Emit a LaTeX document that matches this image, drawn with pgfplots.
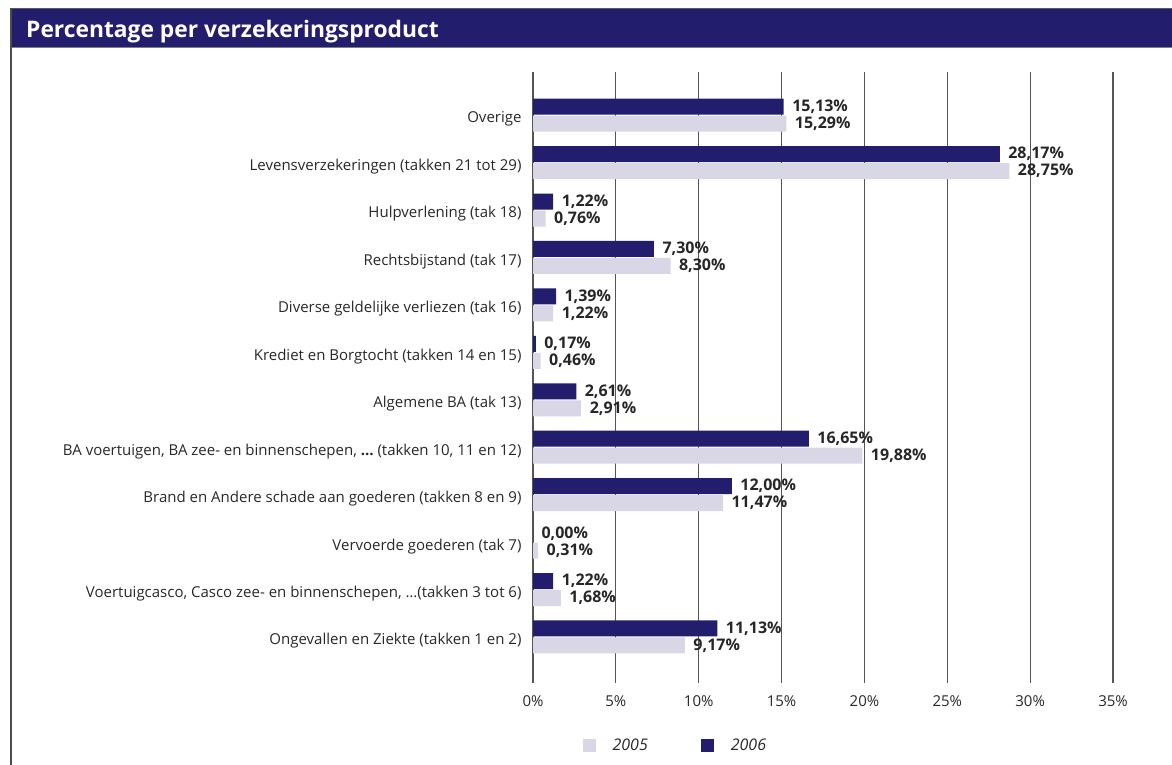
\documentclass[border=0pt]{standalone}
\usepackage{fontspec}
\setmainfont{Open Sans}
\usepackage{pgfplots}
\usepackage{pgfplotstable}
\pgfplotsset{compat=1.18}
\definecolor{navy}{RGB}{35,29,110}
\definecolor{lav}{RGB}{217,214,230}
\definecolor{gridc}{RGB}{85,85,85}
\definecolor{txt}{RGB}{40,40,40}

\pgfplotstableread{
y v2005 v2006
0 9.17 11.13
1 1.68 1.22
2 0.31 0.00
3 11.47 12.00
4 19.88 16.65
5 2.91 2.61
6 0.46 0.17
7 1.22 1.39
8 8.30 7.30
9 0.76 1.22
10 28.75 28.17
11 15.29 15.13
}\data

\begin{document}
\begin{tikzpicture}[x=1pt,y=1pt]
\path[use as bounding box] (0,0) rectangle (1172,765);
\fill[navy] (10,718) rectangle (1172,757);
\draw[gray!70!black, line width=0.8pt] (10,757) -- (1172,757);
\draw[gray, line width=0.8pt] (10,718) -- (1172,718);
\draw[gray!60!black, line width=2pt] (11,0) -- (11,757);
\node[anchor=base west, inner sep=0pt, text=white, font=\bfseries\fontsize{22.8}{27}\selectfont] at (26,727) {Percentage per verzekeringsproduct};

\begin{axis}[
  at={(533pt,82pt)}, anchor=south west,
  scale only axis, width=580pt, height=611pt,
  xmin=0, xmax=35, ymin=-0.97, ymax=11.91,
  xtick={0,5,...,35},
  xticklabels={0\%,5\%,10\%,15\%,20\%,25\%,30\%,35\%},
  ytick={0,...,11},
  yticklabels={
    Ongevallen en Ziekte (takken 1 en 2),
    {Voertuigcasco, Casco zee- en binnenschepen, …(takken 3 tot 6)},
    Vervoerde goederen (tak 7),
    Brand en Andere schade aan goederen (takken 8 en 9),
    {BA voertuigen, BA zee- en binnenschepen, \textbf{…} (takken 10, 11 en 12)},
    Algemene BA (tak 13),
    Krediet en Borgtocht (takken 14 en 15),
    Diverse geldelijke verliezen (tak 16),
    Rechtsbijstand (tak 17),
    Hulpverlening (tak 18),
    Levensverzekeringen (takken 21 tot 29),
    Overige},
  axis line style={draw=none},
  major tick length=0pt,
  xmajorgrids, grid style={gridc, line width=1.2pt},
  xticklabel style={font=\fontsize{15}{18}\selectfont, text=txt, yshift=-9pt},
  yticklabel style={font=\fontsize{15}{18}\selectfont, text=txt, xshift=-8pt, yshift=-4pt},
  xbar, bar width=16pt,
  point meta=x,
  nodes near coords={\pgfmathprintnumber[fixed,fixed zerofill,precision=2,use comma,assume math mode=true]{\pgfplotspointmeta}\%},
  nodes near coords style={anchor=west, xshift=5pt, font=\bfseries\fontsize{16}{19}\selectfont, text=black!85},
  legend style={at={(0.080,-0.103)}, anchor=west, draw=none, fill=none,
    legend columns=2, font=\itshape\fontsize{16}{19}\selectfont, text=txt,
    /tikz/every even column/.append style={column sep=51pt}},
  legend image code/.code={\fill[#1] (0pt,-6.5pt) rectangle (13pt,6.5pt); \path[draw=none,fill=none] (28pt,-1pt) rectangle (28pt,1pt);},
]
\addplot[fill=lav, draw=none, bar shift=-8.5pt] table[x=v2005, y=y] {\data};
\addplot[fill=navy, draw=none, bar shift=8.5pt] table[x=v2006, y=y] {\data};
\legend{2005,2006}
\end{axis}
\end{tikzpicture}
\end{document}
